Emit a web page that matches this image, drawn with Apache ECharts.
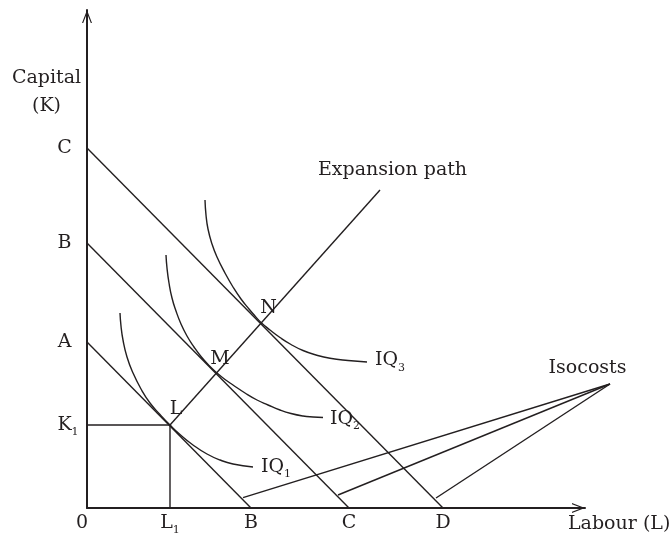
<!DOCTYPE html>
<html><head><meta charset="utf-8">
<script src="https://cdn.jsdelivr.net/npm/echarts@6/dist/echarts.min.js"></script>
<style>html,body{margin:0;padding:0;background:#fff}#c{width:672px;height:537px}</style>
</head><body><div id="c"></div>
<script>
const FONT = 'DejaVu Serif';
const INK = '#231f20';

// ---- data (Labour on x, Capital on y; axis runs 0..498 units) ----
const isocostA = [[0, 166], [164, 0]];
const isocostB = [[0, 265], [262, 0]];
const isocostC = [[0, 360], [356, 0]];
const expansionPath = [[83, 83], [293, 318]];
const guideL = [[0, 83], [83, 83], [83, 0]];
const iq1 = [[33,195],[34,182],[36,168],[40,151],[46,135],[54,119],[63,105],[73,93.5],[83,83],[93,73.5],[106,63],[120,54],[133,48],[146,44],[166,41]];
const iq2 = [[79,253],[80,240],[82,225],[85,210],[89,197],[94,184],[100,172],[107,161],[114,151.5],[122,142.5],[130,135],[138,128.5],[146,123],[158,115],[170,108],[181,103],[193,98],[204,94.5],[216,92],[226,91],[236,90.5]];
const iq3 = [[118,308],[119,293],[121,279],[125,264],[130,251],[138,235],[146,221],[154,209],[162,199],[168,192],[174,185.5],[183,178],[193,170.5],[204,163.5],[216,157.5],[229,153],[243,149.7],[261,147.5],[280,146]];
const pointerApex = [523, 124];
const pointerEnds = [[156, 10.3], [251, 13], [349, 10]];
const xTickValues = [0, 83, 164, 262, 356];
const xTickLabels = ['{z|0}', '{m|L}{sub|1}', '{m|B}', '{m|C}', '{m|D}'];
const yTickValues = [83, 166, 265, 360];
const yTickLabels = ['{sp|1}{m|K}{sub|1}', '{m|A}', '{m|B}', '{m|C}'];
const annotationTexts = ['{m|L}', '{m|M}', '{m|N}', '{m|IQ}{sub|1}', '{m|IQ}{sub|2}', '{m|IQ}{sub|3}', '{m|Expansion path}', '{m|Isocosts}'];
const annotationAnchors = [[89,98.5],[133,148.5],[181.5,200],[174,41],[243,89],[288,147.5],[305.5,337.5],[500.5,140]];
const annotationAligns = ['center','center','center','left','left','left','center','center'];

function st(o) { return Object.assign({fontFamily: FONT, color: INK, fill: INK}, o); }
const rich = {
  m: st({fontSize: 19, lineHeight: 26}),
  z: st({fontSize: 19, lineHeight: 26, padding: [0, 10, 0, 0]}),
  sub: st({fontSize: 11, lineHeight: 10, verticalAlign: 'bottom'}),
  sp: st({fontSize: 11, lineHeight: 10, verticalAlign: 'bottom', color: 'rgba(0,0,0,0)', fill: 'rgba(0,0,0,0)'})
};
const ARROW = 'path://M0,13 L5,0 L10,13 L8.8,13 L5,3.2 L1.2,13 Z';

function pick(values, labels) {
  return function (v) {
    let best = 0;
    for (let i = 1; i < values.length; i++) if (Math.abs(values[i] - v) < Math.abs(values[best] - v)) best = i;
    return labels[best];
  };
}
function lineSeries(data, smooth, gridIdx) {
  return {type: 'line', data: data, symbol: 'none', smooth: smooth || false, clip: false, silent: true,
    xAxisIndex: gridIdx || 0, yAxisIndex: gridIdx || 0,
    lineStyle: {color: INK, width: 1.4}, z: 3};
}
const axisLineCfg = {show: true, lineStyle: {color: INK, width: 2}, symbol: ['none', ARROW], symbolSize: [10, 13], symbolOffset: [0, -6.5]};

const series = [
  lineSeries(isocostA), lineSeries(isocostB), lineSeries(isocostC),
  lineSeries(expansionPath), lineSeries(guideL),
  lineSeries(iq1, 0.5), lineSeries(iq2, 0.5), lineSeries(iq3, 0.5)
].concat(pointerEnds.map(e => lineSeries([pointerApex, e], false, 1)));
series.push({
  type: 'custom', xAxisIndex: 1, yAxisIndex: 1, silent: true, z: 5,
  data: annotationAnchors,
  renderItem: function (params, api) {
    const i = params.dataIndex;
    const p = api.coord([api.value(0), api.value(1)]);
    return {type: 'text', x: p[0], y: p[1], style: {text: annotationTexts[i], rich: rich, align: annotationAligns[i],
      verticalAlign: 'middle', fill: INK, fontFamily: FONT, fontSize: 19}};
  }
});

const chart = echarts.init(document.getElementById('c'), null, {renderer: 'canvas'});
chart.setOption({
  animation: false,
  backgroundColor: '#fff',
  grid: [
    {left: 87, right: 87, top: 10, bottom: 29, containLabel: false},
    // same scale, extended to the right so the isocost pointers are not clipped
    {left: 87, right: 55, top: 10, bottom: 29, containLabel: false}
  ],
  xAxis: [
    {type: 'value', gridIndex: 0, min: 0, max: 498, axisLine: axisLineCfg, axisTick: {show: false}, splitLine: {show: false},
      axisLabel: {customValues: xTickValues, formatter: pick(xTickValues, xTickLabels), margin: 2, rich: rich,
        fontFamily: FONT, fontSize: 19, color: INK}},
    {type: 'value', gridIndex: 1, min: 0, max: 530, show: false}
  ],
  yAxis: [
    {type: 'value', gridIndex: 0, min: 0, max: 498, axisLine: axisLineCfg, axisTick: {show: false}, splitLine: {show: false},
      axisLabel: {customValues: yTickValues, formatter: pick(yTickValues, yTickLabels), margin: 22.5, align: 'center', rich: rich,
        fontFamily: FONT, fontSize: 19, color: INK}},
    {type: 'value', gridIndex: 1, min: 0, max: 498, show: false}
  ],
  graphic: [
    {type: 'text', x: 46.5, y: 92.25, style: {text: 'Capital\n(K)', align: 'center', verticalAlign: 'middle', lineHeight: 28.5,
      fontFamily: FONT, fontSize: 19, fill: INK}},
    {type: 'text', x: 568, y: 524.5, style: {text: 'Labour (L)', align: 'left', verticalAlign: 'middle',
      fontFamily: FONT, fontSize: 19, fill: INK}}
  ],
  series: series
});
</script></body></html>
